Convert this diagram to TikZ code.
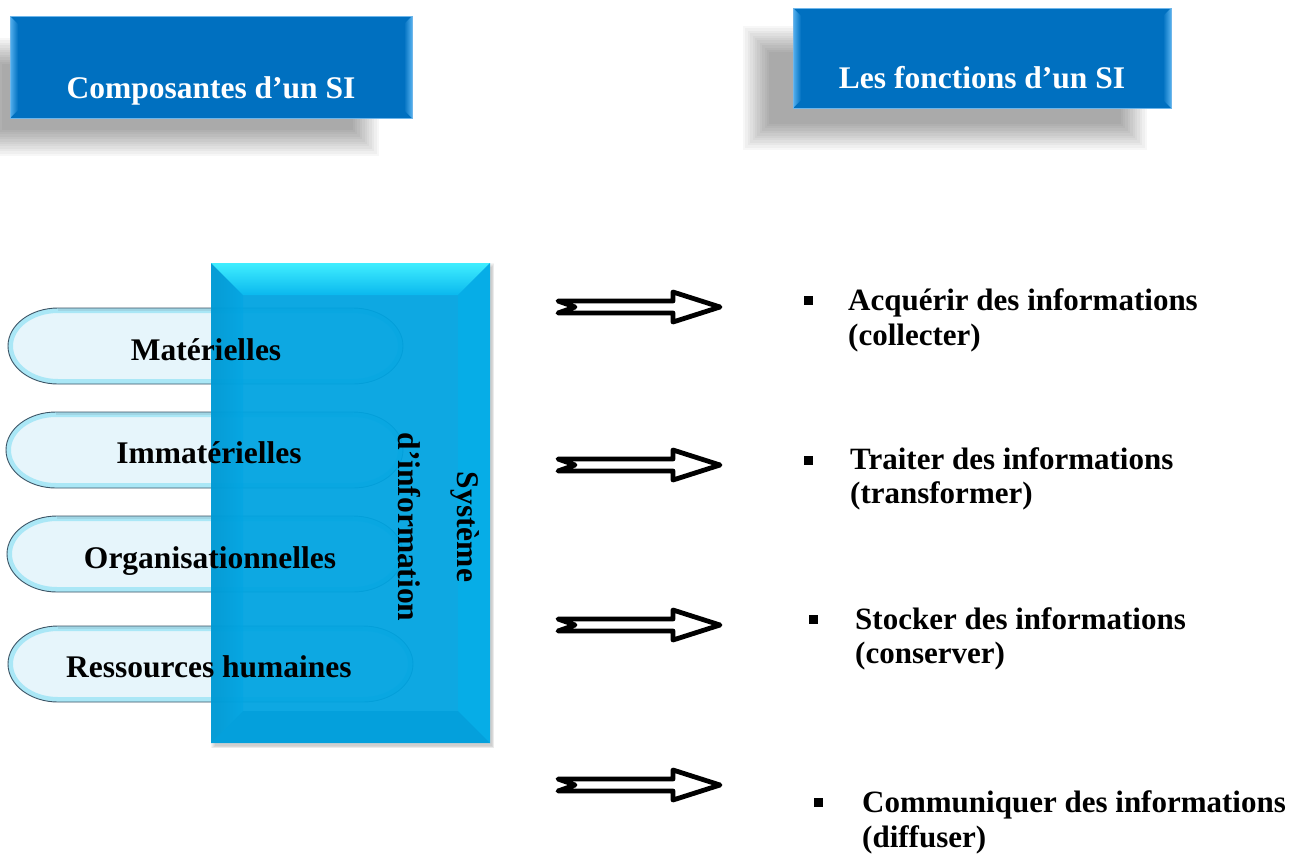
\documentclass[tikz,border=0pt]{standalone}
\usepackage{fontspec}
\setmainfont{Liberation Serif}
\definecolor{titleblue}{HTML}{0070C0}
\definecolor{titlebevel}{HTML}{55B0EE}
\definecolor{titleedge}{HTML}{6FB6EA}
\definecolor{sibase}{HTML}{00A6E4}
\definecolor{sitopa}{HTML}{40EEFF}
\definecolor{sitopb}{HTML}{0AB8EE}
\definecolor{sileft}{HTML}{0090C8}
\definecolor{siright}{HTML}{06AEE8}
\definecolor{sibottom}{HTML}{009EDA}
\definecolor{pillfill}{HTML}{E6F5FB}
\definecolor{pilltop}{HTML}{8FB4C4}
\definecolor{pillglow}{HTML}{3CCDEF}
\definecolor{pilledge}{HTML}{3D5566}
\newcommand\pillpath[4]{({#1+50},#2) -- ({#3-50},#2) arc[start angle=90,end angle=-90,x radius=50pt,y radius=38pt] -- ({#1+50},#4) arc[start angle=270,end angle=90,x radius=50pt,y radius=38pt] -- cycle}
\newcommand\fatarrowpath[1]{(558,{#1-6}) -- (673,{#1-6}) -- (673,{#1-15}) -- (720,#1) -- (673,{#1+15}) -- (673,{#1+6}) -- (558,{#1+6}) -- (575,#1) -- cycle}
\newcommand\softshadow[4]{\foreach \k in {0,...,11}{\fill[black,opacity=0.032] ({#1-14+\k*2.4},{#2-14+\k*2.4}) rectangle ({#3+14-\k*2.4},{#4+14-\k*2.4});}}
\tikzset{
  titletext/.style={text=white,font=\bfseries\fontsize{31.5}{35}\selectfont,anchor=base,inner sep=0pt},
  pilltext/.style={text=black,font=\bfseries\fontsize{31.5}{35}\selectfont,anchor=base,inner sep=0pt},
  systext/.style={text=black,font=\bfseries\fontsize{31.5}{35}\selectfont,anchor=base,rotate=-90,inner sep=0pt},
  itemtext/.style={text=black,font=\bfseries\fontsize{31}{35}\selectfont,anchor=base west,inner sep=0pt},
  bulletsq/.style={fill=black,minimum width=9pt,minimum height=9pt,inner sep=0pt},
  fatarrow/.style={draw=black,fill=white,line width=4.8pt,line join=round},
  pilloutline/.style={draw=pilledge,line width=0.9pt},
  titleframe/.style={draw=titleedge,line width=1pt}
}
\begin{document}
\begin{tikzpicture}[x=1pt,y=-1pt]
\useasboundingbox (0,0) rectangle (1314,855);
\fill[white] (0,0) rectangle (1314,855);

% ---- title shadows ----
\softshadow{-10}{52}{365}{142}
\softshadow{757}{40}{1133}{136}

% ---- left title box ----
\fill[titleblue] (10,16) rectangle (412,118);
\shade[left color=titlebevel,right color=titleblue] (10,16) -- (18,24) -- (18,110) -- (10,118) -- cycle;
\shade[left color=titleblue,right color=titlebevel] (412,16) -- (404,24) -- (404,110) -- (412,118) -- cycle;
\draw[titleframe] (10,16) rectangle (412,118);
\node[titletext] (comp) at (211,98) {Composantes d’un SI};

% ---- right title box ----
\fill[titleblue] (793,8) rectangle (1171,108);
\shade[left color=titlebevel,right color=titleblue] (793,8) -- (801,16) -- (801,100) -- (793,108) -- cycle;
\shade[left color=titleblue,right color=titlebevel] (1171,8) -- (1163,16) -- (1163,100) -- (1171,108) -- cycle;
\draw[titleframe] (793,8) rectangle (1171,108);
\node[titletext] (fonc) at (982,88) {Les fonctions d’un SI};

% ---- pills ----
\foreach \L/\T/\R/\B in {8/308/403/384, 6/412/403/488, 7/516/403/592, 8/626/413/702}{
  \fill[pillfill] \pillpath{\L}{\T}{\R}{\B};
  \begin{scope}
    \clip \pillpath{\L}{\T}{\R}{\B};
    \draw[pillglow,line width=10pt,opacity=0.35] \pillpath{\L}{\T}{\R}{\B};
    \draw[pilltop,line width=5pt,opacity=0.35] ({\L+50},\T) -- ({\R-50},\T);
  \end{scope}
  \draw[pilloutline] \pillpath{\L}{\T}{\R}{\B};
}

% ---- central box ----
\foreach \k in {0,...,4}{\fill[black,opacity=0.04] ({211+\k},{263+\k}) rectangle ({494-\k*0.5},{748-\k*0.5});}
\fill[sibase,opacity=0.93] (211,263) rectangle (490,743);
\shade[top color=sitopa,bottom color=sitopb] (211,263) -- (490,263) -- (458,295) -- (243,295) -- cycle;
\shade[left color=sileft,right color=sibase,opacity=0.5] (211,263) -- (243,295) -- (243,711) -- (211,743) -- cycle;
\fill[siright,opacity=0.9] (490,263) -- (490,743) -- (458,711) -- (458,295) -- cycle;
\fill[sibottom,opacity=0.7] (211,743) -- (490,743) -- (458,711) -- (243,711) -- cycle;

% ---- pill texts ----
\node[pilltext] (mat) at (206,360) {Matérielles};
\node[pilltext] (immat) at (209,463) {Immatérielles};
\node[pilltext] (org) at (210,568) {Organisationnelles};
\node[pilltext] (rh) at (209,677) {Ressources humaines};

% ---- vertical text ----
\node[systext] (sysa) at (457,527) {Système};
\node[systext] (sysb) at (398,527) {d’information};

% ---- arrows ----
\foreach \c in {307,465,625,785}{\draw[fatarrow] \fatarrowpath{\c};}

% ---- function items ----
\node[bulletsq] (b1) at (808,300) {};
\node[itemtext] (acqa) at (848,310) {Acquérir des informations};
\node[itemtext] (acqb) at (848,345) {(collecter)};
\node[bulletsq] (b2) at (808,460) {};
\node[itemtext] (traa) at (850,469) {Traiter des informations};
\node[itemtext] (trab) at (850,503) {(transformer)};
\node[bulletsq] (b3) at (813,619) {};
\node[itemtext] (stoa) at (855,629) {Stocker des informations};
\node[itemtext] (stob) at (855,663) {(conserver)};
\node[bulletsq] (b4) at (818,802) {};
\node[itemtext] (coma) at (862,812) {Communiquer des informations};
\node[itemtext] (comb) at (862,847) {(diffuser)};
\end{tikzpicture}
\end{document}
